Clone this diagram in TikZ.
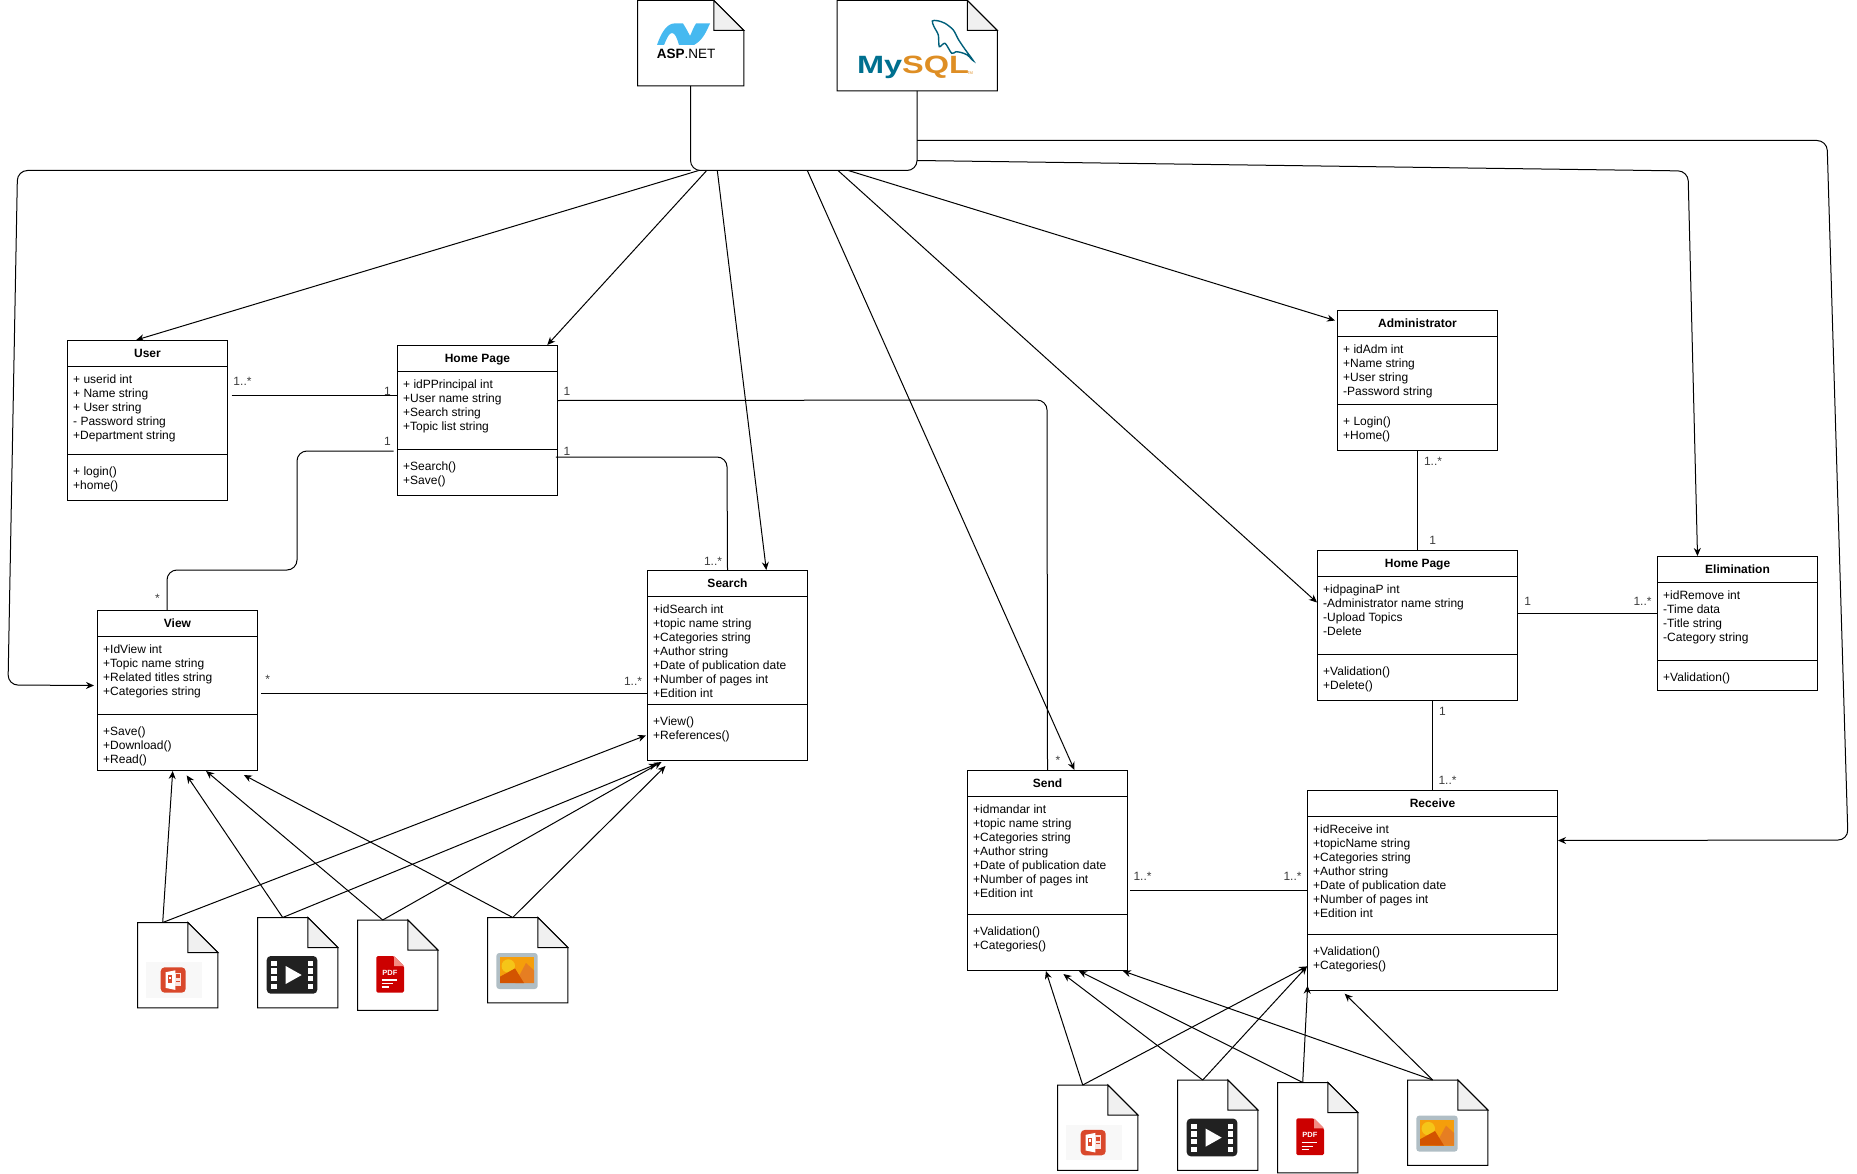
\documentclass[tikz,border=0pt]{standalone}
\usepackage{fontspec}
\setmainfont{Liberation Sans}
\usetikzlibrary{arrows.meta,calc}
\definecolor{foldgrey}{RGB}{240,240,240}
\definecolor{multgrey}{RGB}{60,60,60}
\definecolor{pptred}{RGB}{217,72,43}
\definecolor{pptback}{RGB}{248,248,248}
\definecolor{clipdark}{RGB}{33,33,33}
\definecolor{pdfred}{RGB}{204,0,0}
\definecolor{pdfpink}{RGB}{242,139,130}
\definecolor{imgframe}{RGB}{176,190,197}
\definecolor{imgorange}{RGB}{245,158,11}
\definecolor{imgsun}{RGB}{245,197,24}
\definecolor{imgdark}{RGB}{211,84,0}
\definecolor{imgmid}{RGB}{230,126,34}
\definecolor{aspblue}{RGB}{21,85,150}
\definecolor{asplight}{RGB}{70,185,240}
\definecolor{mysqlteal}{RGB}{0,112,143}
\definecolor{mysqlorange}{RGB}{222,142,36}

% name, x, y, width, height, divider offset, title, attributes, methods
\newcommand{\umlclass}[9]{
  \node[classbox, minimum width=#4pt, minimum height=#5pt] (#1) at (#2-0.5,#3-0.5) {};
  \node[classtitle] (#1title) at ([yshift=-14pt]#1.north) {#7};
  \draw[classline] ([yshift=-26pt]#1.north west) -- ([yshift=-26pt]#1.north east);
  \draw[classline] ([yshift=-#6pt]#1.north west) -- ([yshift=-#6pt]#1.north east);
  \node[classtext] (#1attr) at ([xshift=6pt,yshift=-33.6pt]#1.north west) {\strut #8};
  \node[classtext] (#1oper) at ([xshift=6pt,yshift=-#6pt,yshift=-11.6pt]#1.north west) {\strut #9};
}
% name, x, y, width, height
\newcommand{\filedoc}[5]{
  \node[docbox, minimum width=#4pt, minimum height=#5pt] (#1) at (#2,#3) {};
  \draw[docline] (#1.north west) -- ([xshift=-30pt]#1.north east) -- ([yshift=-30pt]#1.north east)
    -- (#1.south east) -- (#1.south west) -- cycle;
  \filldraw[docline, fill=foldgrey] ([xshift=-30pt]#1.north east) -- ([xshift=-30pt,yshift=-30pt]#1.north east)
    -- ([yshift=-30pt]#1.north east) -- cycle;
}
\newcommand{\ppticon}[2]{
  \begin{scope}[shift={(#1,#2)}]
    \fill[pptback] (8.7,39.3) rectangle (64.4,75);
    \fill[pptred, rounded corners=4pt] (23.4,44.6) rectangle (48.4,70);
    \fill[white] (28.4,49.5) -- (38,47.6) -- (38,67.2) -- (28.4,65.2) -- cycle;
    \fill[white!85!pptred] (38,50) rectangle (43.6,63.5);
    \fill[pptred] (30.6,52.5) rectangle (35,60.5);
    \fill[white] (32,54) rectangle (33.6,56.5);
    \fill[pptred] (38.6,51.5) rectangle (42.6,55.5);
    \fill[pptred] (38.6,58) rectangle (43,59);
  \end{scope}
}
\newcommand{\clipicon}[2]{
  \begin{scope}[shift={(#1,#2)}]
    \fill[clipdark, rounded corners=4pt] (9.4,38.3) rectangle (60,76);
    \foreach \holey/\holeh in {43.3/48.3, 50.7/56.3, 58.3/63.7, 66.3/71.6}{
      \fill[white] (13.7,\holey) rectangle (19.4,\holeh);
      \fill[white] (50.4,\holey) rectangle (56,\holeh);
    }
    \fill[white] (28.4,48.3) -- (44.4,57.3) -- (28.4,66.3) -- cycle;
  \end{scope}
}
\newcommand{\pdficon}[3]{
  \begin{scope}[shift={(#2,#3)}]
    \fill[pdfred, rounded corners=1.5pt] (19,35.7) -- (36.7,35.7) -- (46.7,45.7) -- (46.7,72.4) -- (19,72.4) -- cycle;
    \fill[pdfpink] (36.7,35.7) -- (46.7,45.7) -- (36.7,45.7) -- cycle;
    \node[pdftext] (#1pdf) at (32.6,52.3) {PDF};
    \draw[white, line width=1.2pt] (24.3,59.7) -- (40,59.7);
    \draw[white, line width=1.2pt] (24.3,63.4) -- (36,63.4);
    \draw[white, line width=1.2pt] (24.3,66.7) -- (32,66.7);
  \end{scope}
}
\newcommand{\imgicon}[2]{
  \begin{scope}[shift={(#1,#2)}]
    \fill[imgframe, rounded corners=3pt] (9,35.3) rectangle (50.4,71.3);
    \fill[imgorange] (12.7,39.3) rectangle (46.7,65.3);
    \fill[imgsun] (21,48.3) circle (6.7);
    \fill[imgmid] (28,65.3) -- (38.7,45.3) -- (46.7,52.6) -- (46.7,65.3) -- cycle;
    \fill[imgdark] (12.7,59) -- (27.7,50.7) -- (36.7,65.3) -- (12.7,65.3) -- cycle;
  \end{scope}
}

\begin{document}
\begin{tikzpicture}[x=1pt, y=-1pt,
    classbox/.style={draw, line width=1pt, fill=white, rectangle, inner sep=0pt, anchor=north west},
    classline/.style={line width=1pt},
    classtitle/.style={font=\fontsize{12}{14}\selectfont\bfseries, inner sep=0pt, text height=9pt, text depth=2.5pt},
    classtext/.style={font=\fontsize{12}{14}\selectfont, align=left, inner sep=0pt, anchor=north west},
    docbox/.style={rectangle, inner sep=0pt, anchor=north west},
    docline/.style={line width=1pt},
    pdftext/.style={font=\fontsize{7.5}{8}\selectfont\bfseries, text=white, inner sep=0pt},
    multlabel/.style={font=\fontsize{12}{14}\selectfont, text=multgrey, inner sep=0pt},
    wire/.style={line width=1pt},
    arrow/.style={wire, -{Stealth[length=8pt,width=7pt]}},
    round/.style={rounded corners=10pt}
  ]
  \useasboundingbox (0,0) rectangle (1857,1174);

  \filedoc{aspdoc}{637.5}{0.5}{106}{85}
  \filedoc{mysqldoc}{837}{0.5}{160}{90}

  % ASP.NET logo
  \shade[left color=asplight, middle color=aspblue, right color=asplight] (657,45) .. controls (661,33) and (667,23.5) .. (674,23.5)
    -- (683,23.5) .. controls (686,28) and (688,32) .. (690,36) .. controls (692,32) and (693,28) .. (696,23.5) -- (710,23.5)
    .. controls (706,32) and (703,40) .. (694,45) -- (679,45) .. controls (677,38) and (675,33) .. (672,33)
    .. controls (669,33) and (667,38) .. (664,45) -- cycle;
  \node[inner sep=0pt, font=\fontsize{13.5}{14}\selectfont] (asptext) at (686,54) {\textbf{ASP}.NET};

  % MySQL logo
  \draw[mysqlteal!85!black, line width=1.4pt] plot[smooth cycle, tension=0.5] coordinates {(932.3,21) (937.3,20.7) (945,23.3)
    (953.3,30) (958.3,39.3) (965,49.3) (973.3,60.7) (967.3,55) (961.7,52.7) (956,51.7) (951.7,53.3) (945,43.3)
    (939.3,46.7) (938.3,35) (934,26.7)};
  \node[inner sep=0pt, font=\fontsize{25}{26}\selectfont\bfseries] (mysqltext) at (913,67)
    {\scalebox{1.3}[1]{\textcolor{mysqlteal}{My}\textcolor{mysqlorange}{SQL}}};
  \node[inner sep=0pt, font=\fontsize{4}{4}\selectfont, text=mysqlorange] (mysqltm) at (970,73) {TM};

  \umlclass{user}{67.5}{340.5}{160}{160}{114}{User}
    {+ userid int\\+ Name string\\+ User string\\- Password string\\+Department string}
    {+ login()\\+home()}
  \umlclass{homeuser}{397.5}{345.5}{160}{150}{104}{Home Page}
    {+ idPPrincipal int\\+User name string\\+Search string\\+Topic list string}
    {+Search()\\+Save()}
  \umlclass{view}{97.5}{610.5}{160}{160}{104}{View}
    {+IdView int\\+Topic name string\\+Related titles string\\+Categories string}
    {+Save()\\+Download()\\+Read()}
  \umlclass{search}{647.5}{570.5}{160}{190}{134}{Search}
    {+idSearch int\\+topic name string\\+Categories string\\+Author string\\+Date of publication date\\+Number of pages int\\+Edition int}
    {+View()\\+References()}
  \umlclass{send}{967.5}{770.5}{160}{200}{144}{Send}
    {+idmandar int\\+topic name string\\+Categories string\\+Author string\\+Date of publication date\\+Number of pages int\\+Edition int}
    {+Validation()\\+Categories()}
  \umlclass{receive}{1307.5}{790.5}{250}{200}{144}{Receive}
    {+idReceive int\\+topicName string\\+Categories string\\+Author string\\+Date of publication date\\+Number of pages int\\+Edition int}
    {+Validation()\\+Categories()}
  \umlclass{admin}{1337.5}{310.5}{160}{140}{94}{Administrator}
    {+ idAdm int\\+Name string\\+User string\\-Password string}
    {+ Login()\\+Home()}
  \umlclass{homeadmin}{1317.5}{550.5}{200}{150}{104}{Home Page}
    {+idpaginaP int\\-Administrator name string\\-Upload Topics\\-Delete}
    {+Validation()\\+Delete()}
  \umlclass{elimination}{1657.5}{556.5}{160}{134}{104}{Elimination}
    {+idRemove int\\-Time data\\-Title string\\-Category string}
    {+Validation()}

  \filedoc{ppta}{137.5}{922.5}{80}{85}
  \ppticon{137.3}{922.7}
  \filedoc{clipa}{257.5}{917.5}{80}{90}
  \clipicon{257.3}{917.7}
  \filedoc{pdfa}{357.5}{920}{80}{90}
  \pdficon{pdfa}{357.3}{920.3}
  \filedoc{imga}{487.5}{917.5}{80}{85}
  \imgicon{487.3}{917.7}
  \filedoc{pptb}{1057.5}{1085}{80}{85}
  \ppticon{1057.3}{1085.3}
  \filedoc{clipb}{1177.5}{1080}{80}{90}
  \clipicon{1177.3}{1080.3}
  \filedoc{pdfb}{1277.5}{1082.5}{80}{90}
  \pdficon{pdfb}{1277.3}{1082.7}
  \filedoc{imgb}{1407.5}{1080}{80}{85}
  \imgicon{1407.3}{1080.3}

  % bus under the two top files
  \coordinate (buswest) at (690.5,170.5);
  \coordinate (buseast) at (917,170.5);
  \coordinate (busleft) at (17.5,170.5);
  \coordinate (busdown) at (8,685);
  \coordinate (tapuser) at (698.7,170.5);
  \coordinate (taphome) at (706.7,170.5);
  \coordinate (tapsearch) at (717.3,170.5);
  \coordinate (tapsend) at (807.3,170.5);
  \coordinate (taphomeadmin) at (838,170.5);
  \coordinate (tapadmin) at (848.3,170.5);
  \coordinate (tapouter) at (917,140.5);
  \coordinate (tapelim) at (917,160.5);
  \coordinate (outertop) at (1827,140.5);
  \coordinate (outerdown) at (1848,840);
  \coordinate (elimbend) at (1688,171);

  \draw[wire, round] (aspdoc.south) -- (buswest) -- (buseast) -- (mysqldoc.south);
  \draw[arrow, round] (buswest) -- (busleft) -- (busdown) -- ([yshift=5pt,xshift=-3pt]view.west);
  \draw[arrow] (tapuser) -- ([xshift=-11.3pt]user.north);
  \draw[arrow] (taphome) -- ([xshift=69.8pt]homeuser.north);
  \draw[arrow] (tapsearch) -- ([xshift=38.8pt]search.north);
  \draw[arrow] (tapsend) -- ([xshift=26.9pt]send.north);
  \draw[arrow] (taphomeadmin) -- ([yshift=23pt]homeadmin.west);
  \draw[arrow] (tapadmin) -- ([xshift=-2pt,yshift=60pt]admin.west);
  \draw[arrow, round] (tapouter) -- (outertop) -- (outerdown) -- ([yshift=50pt]receive.east);
  \draw[arrow, round] (tapelim) -- (elimbend) -- ([xshift=-40pt]elimination.north);

  % associations
  \coordinate (userend) at (231.5,395);
  \draw[wire] (userend) -- (userend -| homeuser.west);
  \coordinate (viewstart) at (393.6,451);
  \draw[wire, round] (viewstart) -- (297,451) -- (297,570) -- (167,570) -- (view.north -| 167,0);
  \draw[wire, round] ([yshift=20pt]homeuser.east) -- (1047,400) -- (send.north);
  \draw[wire, round] (555.8,457) -- (727,457) -- (search.north);
  \coordinate (viewend) at (261.3,693);
  \draw[wire] (viewend) -- (viewend -| search.west);
  \coordinate (sendend) at (1130.4,890);
  \draw[wire] (sendend) -- (sendend -| receive.west);
  \draw[wire] (admin.south) -- (admin.south |- homeadmin.north);
  \draw[wire] ([yshift=12pt]homeadmin.east) -- ([yshift=12pt]homeadmin.east -| elimination.west);
  \draw[wire] ([xshift=15pt]homeadmin.south) -- (receive.north);

  % files to classes
  \draw[arrow] ([xshift=-15pt]ppta.north) -- ([xshift=-4.8pt]view.south);
  \draw[arrow] ([xshift=-15pt]clipa.north) -- ([xshift=9.2pt,yshift=-4.4pt]view.south);
  \draw[arrow] ([xshift=-15pt]pdfa.north) -- ([xshift=28.6pt]view.south);
  \draw[arrow] ([xshift=-15pt]imga.north) -- ([xshift=66.4pt,yshift=-4pt]view.south);
  \draw[arrow] ([xshift=-15pt]ppta.north) -- ([xshift=-81.6pt,yshift=25.6pt]search.south);
  \draw[arrow] ([xshift=-15pt]clipa.north) -- ([xshift=-70.8pt,yshift=-3pt]search.south);
  \draw[arrow] ([xshift=-15pt]pdfa.north) -- ([xshift=-65.9pt,yshift=-1pt]search.south);
  \draw[arrow] ([xshift=-15pt]imga.north) -- ([xshift=-62pt,yshift=-5pt]search.south);
  \draw[arrow] ([xshift=-15pt]pptb.north) -- ([xshift=-1.6pt]send.south);
  \draw[arrow] ([xshift=-15pt]clipb.north) -- ([xshift=15.9pt,yshift=-3pt]send.south);
  \draw[arrow] ([xshift=-15pt]pdfb.north) -- ([xshift=31.4pt]send.south);
  \draw[arrow] ([xshift=-15pt]imgb.north) -- ([xshift=75.4pt]send.south);
  \draw[arrow] ([xshift=-15pt]pptb.north) -- ([xshift=-125.5pt,yshift=24.6pt]receive.south);
  \draw[arrow] ([xshift=-15pt]clipb.north) -- ([xshift=-125.5pt,yshift=24.6pt]receive.south);
  \draw[arrow] ([xshift=-15pt]pdfb.north) -- ([xshift=-124.9pt,yshift=5.3pt]receive.south);
  \draw[arrow] ([xshift=-15pt]imgb.north) -- ([xshift=-87.8pt,yshift=-2.7pt]receive.south);

  % multiplicities
  \node[multlabel] (usermany) at (242.5,381) {1..*};
  \node[multlabel] (homeone) at (387.5,391) {1};
  \node[multlabel] (homeoneb) at (387.5,441) {1};
  \node[multlabel] (viewmany) at (157.4,598.5) {*};
  \node[multlabel] (homeonec) at (567,391) {1};
  \node[multlabel] (homeoned) at (567,451) {1};
  \node[multlabel] (searchmany) at (713,561) {1..*};
  \node[multlabel] (viewmanyb) at (267.6,679) {*};
  \node[multlabel] (searchmanyb) at (633,681) {1..*};
  \node[multlabel] (sendmany) at (1058,760) {*};
  \node[multlabel] (sendmanyb) at (1142.5,876) {1..*};
  \node[multlabel] (receivemany) at (1292.5,876) {1..*};
  \node[multlabel] (adminmany) at (1433,461) {1..*};
  \node[multlabel] (homeadminone) at (1432.7,540.5) {1};
  \node[multlabel] (homeadmintwo) at (1527.7,601) {1};
  \node[multlabel] (elimmany) at (1642.5,601) {1..*};
  \node[multlabel] (homeadminthree) at (1442.4,711) {1};
  \node[multlabel] (receivemanyb) at (1447.5,780.5) {1..*};
\end{tikzpicture}
\end{document}
